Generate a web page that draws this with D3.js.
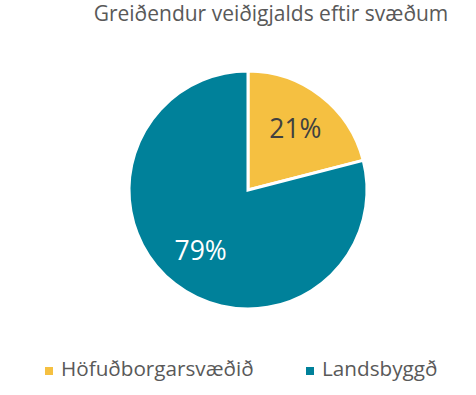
<!DOCTYPE html>
<html>
<head>
<meta charset="utf-8">
<script src="https://cdn.jsdelivr.net/npm/d3@7"></script>
<style>
  body { margin: 0; background: #fff; }
  text { font-family: "Open Sans", sans-serif; }
</style>
</head>
<body>
<div class="chart"></div>
<script>
// Data
var categories = ["Höfuðborgarsvæðið", "Landsbyggð"];
var shares = [21, 79];
var colors = ["#F5C041", "#00819A"];
var labelColors = ["#404040", "#ffffff"];
var title = "Greiðendur veiðigjalds eftir svæðum";

var svgWidth = 476;
var svgHeight = 395;

var svg = d3.select(".chart")
  .append("svg")
  .attr("width", svgWidth)
  .attr("height", svgHeight);

// Title
svg.append("text")
  .attr("x", 271)
  .attr("y", 21)
  .attr("text-anchor", "middle")
  .style("font-size", "21px")
  .style("fill", "#595959")
  .text(title);

var radius = 119;
var chart = svg.append("g")
  .attr("transform", "translate(248,190)");

var pie = d3.pie().sort(null).value(function(d) { return d; });
var arcs = pie(shares);

var arc = d3.arc().innerRadius(0).outerRadius(radius);
var labelArc = d3.arc().innerRadius(radius * 0.65).outerRadius(radius * 0.65);

chart.selectAll("path")
  .data(arcs)
  .enter()
  .append("path")
  .attr("d", arc)
  .attr("fill", function(d, i) { return colors[i]; })
  .attr("stroke", "#fff")
  .attr("stroke-width", 3)
  .attr("stroke-linejoin", "miter");

chart.selectAll(".pct")
  .data(arcs)
  .enter()
  .append("text")
  .attr("class", "pct")
  .attr("transform", function(d) {
    var c = labelArc.centroid(d);
    return "translate(" + c[0] + "," + c[1] + ")";
  })
  .attr("text-anchor", "middle")
  .attr("dy", "0.35em")
  .style("font-size", "26.5px")
  .style("fill", function(d, i) { return labelColors[i]; })
  .text(function(d) { return d.data + "%"; });

// Legend
var legendX = [45, 306];
var legend = svg.selectAll(".legend")
  .data(categories)
  .enter()
  .append("g")
  .attr("class", "legend")
  .attr("transform", function(d, i) { return "translate(" + legendX[i] + ",367)"; });

legend.append("rect")
  .attr("width", 8)
  .attr("height", 8)
  .attr("fill", function(d, i) { return colors[i]; });

legend.append("text")
  .attr("x", 16)
  .attr("y", 9)
  .style("font-size", "20.7px")
  .style("fill", "#595959")
  .text(function(d) { return d; });
</script>
</body>
</html>
